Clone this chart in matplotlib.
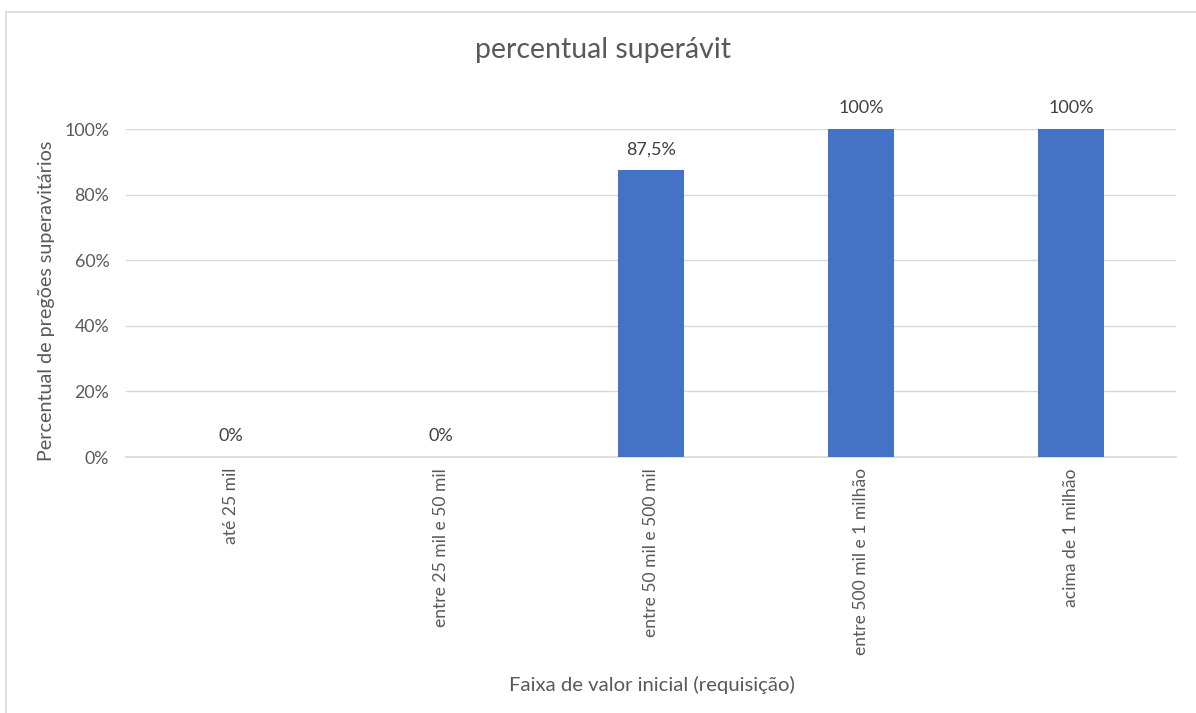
import matplotlib.pyplot as plt
from matplotlib.patches import Rectangle
from matplotlib.ticker import PercentFormatter

plt.rcParams['font.family'] = ['Lato', 'DejaVu Sans']

categories = ["até 25 mil", "entre 25 mil e 50 mil", "entre 50 mil e 500 mil",
              "entre 500 mil e 1 milhão", "acima de 1 milhão"]
values = [0.0, 0.0, 0.875, 1.0, 1.0]
value_labels = ["0%", "0%", "87,5%", "100%", "100%"]

W, H = 1196, 713
fig = plt.figure(figsize=(W / 100, H / 100), dpi=100)
txt = "#595959"

# chart border (cut off at right and bottom as in the screenshot)
fig.patches.append(Rectangle((6 / W, -0.01), 1.05, 1 - 12 / H + 0.01,
                             transform=fig.transFigure, fill=False,
                             edgecolor="#d9d9d9", linewidth=1.2))

ax = fig.add_axes([126 / W, 1 - 457 / H, (1176 - 126) / W, (457 - 129) / H])
x = list(range(len(categories)))
ax.bar(x, values, width=0.315, color="#4472c4", zorder=3)
for xi, v, lab in zip(x, values, value_labels):
    ax.annotate(lab, (xi, v), xytext=(0, 15), textcoords="offset points",
                ha="center", va="center", fontsize=13, color="#404040")

ax.set_xlim(-0.5, len(categories) - 0.5)
ax.set_ylim(0, 1)
ax.set_yticks([0, 0.2, 0.4, 0.6, 0.8, 1.0])
ax.yaxis.set_major_formatter(PercentFormatter(1.0, decimals=0))
ax.grid(axis="y", color="#d9d9d9", linewidth=1, zorder=0)
ax.set_xticks(x)
ax.set_xticklabels(categories, rotation=90, va="top")
ax.tick_params(axis="both", length=0, labelcolor=txt)
ax.tick_params(axis="x", pad=8, labelsize=12.6)
ax.tick_params(axis="y", pad=12, labelsize=12.8)
for side in ["top", "right", "left"]:
    ax.spines[side].set_visible(False)
ax.spines["bottom"].set_color("#d9d9d9")
ax.spines["bottom"].set_linewidth(1.2)

fig.text(47 / W, 1 - 301 / H, "Percentual de pregões superavitários", rotation=90,
         ha="center", va="center", fontsize=14.2, color=txt)
fig.text(652 / W, 1 - 685 / H, "Faixa de valor inicial (requisição)", ha="center",
         va="center", fontsize=14.6, color=txt)
fig.text(603 / W, 1 - 50 / H, "percentual superávit", ha="center", va="center",
         fontsize=20.5, color=txt)

fig.savefig("out.png", dpi=100, facecolor="white")
